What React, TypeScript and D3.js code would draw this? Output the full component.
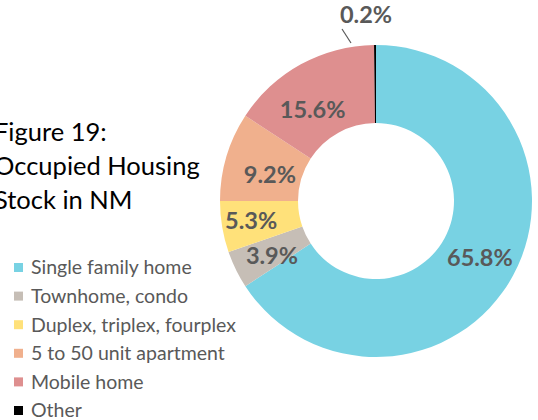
import React from "react";
import * as d3 from "d3";

const categories = [
  "Single family home",
  "Townhome, condo",
  "Duplex, triplex, fourplex",
  "5 to 50 unit apartment",
  "Mobile home",
  "Other",
];
const values = [65.8, 3.9, 5.3, 9.2, 15.6, 0.2];
const colors = ["#78D2E3", "#C6BEB6", "#FFE17A", "#F0B08D", "#DE8F8F", "#000000"];
const titleLines = ["Figure 19:", "Occupied Housing", "Stock in NM"];
// small label nudges (layout) relative to arc centroids, as placed by the original
const labelNudge: [number, number][] = [
  [1, 1],
  [1, 3.5],
  [-9.5, 0],
  [6, 7],
  [-7, 11.5],
  [0, 0],
];

const W = 538;
const H = 420;
const cx = 376;
const cy = 201;
const R = 156;
const r0 = 78;
const FONT = "Lato, 'Open Sans', sans-serif";
const TEXT = "#595959";

export default function App() {
  const pie = d3
    .pie<number>()
    .sort(null)
    .value((d) => d)
    .startAngle(0)
    .endAngle(2 * Math.PI);
  const arcs = pie(values);
  const arc = d3.arc<d3.PieArcDatum<number>>().innerRadius(r0).outerRadius(R);

  return (
    <svg
      width={W}
      height={H}
      style={{ position: "absolute", left: 0, top: 0, background: "#fff" }}
    >
      {titleLines.map((t, i) => (
        <text
          key={t}
          x={-6}
          y={141 + i * 34}
          fontFamily={FONT}
          fontSize={25.5}
          fill="#000"
        >
          {t}
        </text>
      ))}
      <g transform={`translate(${cx},${cy})`}>
        {arcs.map((a, i) => (
          <path key={i} d={arc(a) || ""} fill={colors[i]} stroke="none" />
        ))}
        {arcs.map((a, i) => {
          const label = `${values[i].toFixed(1)}%`;
          if (i === arcs.length - 1) {
            return (
              <g key={"l" + i}>
                <line
                  x1={-25}
                  y1={-158}
                  x2={-34}
                  y2={-172}
                  stroke={TEXT}
                  strokeWidth={1.2}
                />
                <text
                  x={-10}
                  y={-178}
                  textAnchor="middle"
                  fontFamily={FONT}
                  fontWeight="bold"
                  fontSize={23.5}
                  fill={TEXT}
                >
                  {label}
                </text>
              </g>
            );
          }
          const [x, y] = arc.centroid(a);
          return (
            <text
              key={"l" + i}
              x={x + labelNudge[i][0]}
              y={y + labelNudge[i][1]}
              dy="0.35em"
              textAnchor="middle"
              fontFamily={FONT}
              fontWeight="bold"
              fontSize={23.5}
              fill={TEXT}
            >
              {label}
            </text>
          );
        })}
      </g>
      {categories.map((c, i) => (
        <g key={c} transform={`translate(14,${267.5 + i * 28.6})`}>
          <rect x={0} y={-4.5} width={9} height={9} fill={colors[i]} />
          <text x={17} y={0} dy="0.35em" fontFamily={FONT} fontSize={19.5} fill={TEXT}>
            {c}
          </text>
        </g>
      ))}
    </svg>
  );
}
